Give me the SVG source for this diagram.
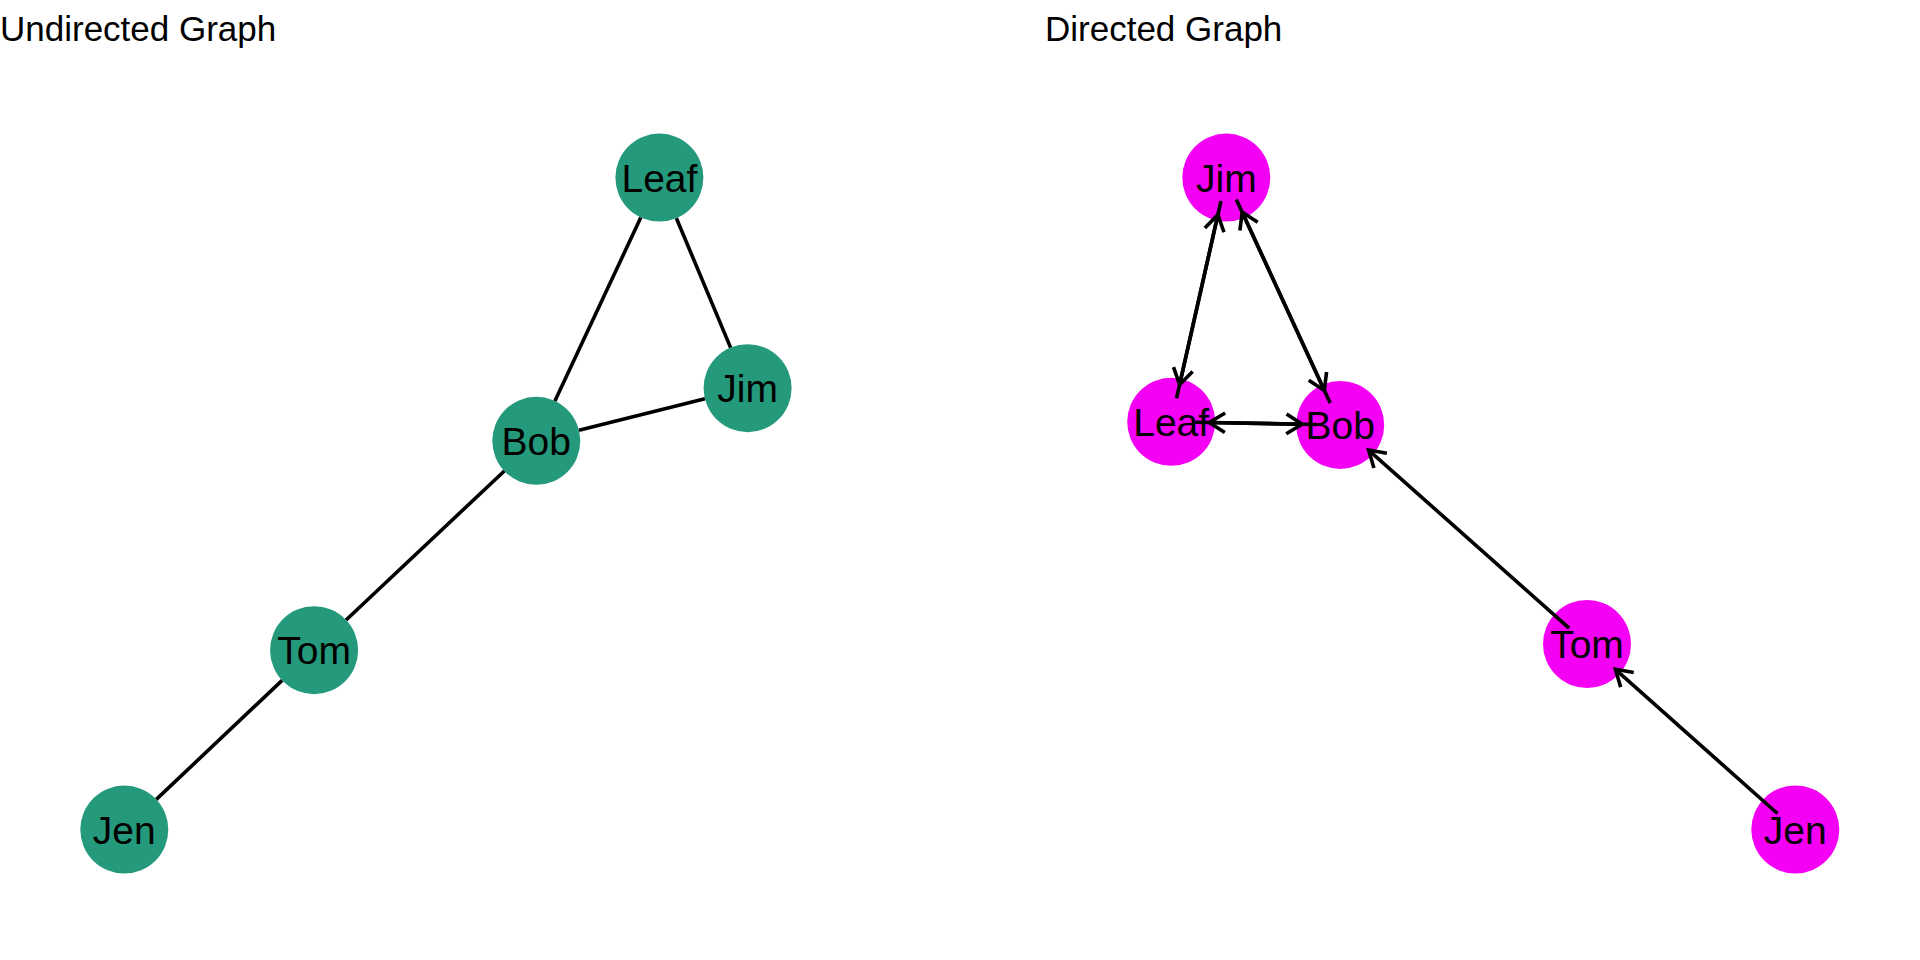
<svg xmlns="http://www.w3.org/2000/svg" width="1920" height="960" viewBox="0 0 1920 960">
<style>
.title{font-family:"Liberation Sans",Arial,sans-serif;font-size:35px;fill:#000}
.lbl{font-family:"Liberation Sans",Arial,sans-serif;font-size:39px;fill:#000;text-anchor:middle}
.un{fill:#24997b}
.dn{fill:#f400f4}
.e{stroke:#000;stroke-width:3.6;fill:none}
.d{stroke:#000;stroke-width:3.6;fill:none;marker-end:url(#arr)}
</style>
<defs>
<marker id="arr" markerUnits="userSpaceOnUse" markerWidth="40" markerHeight="40" viewBox="-20 -20 40 40" refX="0" refY="0" orient="auto" overflow="visible">
<path d="M-15.8,-9.8 L0,0 L-15.8,9.8" fill="none" stroke="#000" stroke-width="3.6" stroke-linejoin="miter"/>
</marker>
</defs>
<rect width="1920" height="960" fill="#fff"/>
<text class="title" x="0" y="41">Undirected Graph</text>
<text class="title" x="1045" y="41">Directed Graph</text>

<g id="u-Leaf"><circle class="un" cx="659.4" cy="177.6" r="44"/><text class="lbl" x="659.4" y="191.6">Leaf</text></g>
<g id="u-Jim"><circle class="un" cx="747.6" cy="388.2" r="44"/><text class="lbl" x="747.6" y="402.2">Jim</text></g>
<g id="u-Bob"><circle class="un" cx="536.3" cy="440.8" r="44"/><text class="lbl" x="536.3" y="454.8">Bob</text></g>
<g id="u-Tom"><circle class="un" cx="314.1" cy="650.2" r="44"/><text class="lbl" x="314.1" y="664.2">Tom</text></g>
<g id="u-Jen"><circle class="un" cx="124.3" cy="829.6" r="44"/><text class="lbl" x="124.3" y="843.6">Jen</text></g>

<g id="d-Jim"><circle class="dn" cx="1226.3" cy="177.6" r="44"/><text class="lbl" x="1226.3" y="191.6">Jim</text></g>
<g id="d-Leaf"><circle class="dn" cx="1171.2" cy="421.8" r="44"/><text class="lbl" x="1171.2" y="435.8">Leaf</text></g>
<g id="d-Bob"><circle class="dn" cx="1340.2" cy="424.9" r="44"/><text class="lbl" x="1340.2" y="438.9">Bob</text></g>
<g id="d-Tom"><circle class="dn" cx="1587" cy="644" r="44"/><text class="lbl" x="1587" y="658">Tom</text></g>
<g id="d-Jen"><circle class="dn" cx="1795.3" cy="829.5" r="44"/><text class="lbl" x="1795.3" y="843.5">Jen</text></g>

<g id="connectors">
<line class="e" x1="640.8" y1="217.5" x2="554.9" y2="400.9"/>
<line class="e" x1="676.4" y1="218.2" x2="730.6" y2="347.6"/>
<line class="e" x1="579.0" y1="430.2" x2="704.9" y2="398.8"/>
<line class="e" x1="504.3" y1="471.0" x2="346.1" y2="620.0"/>
<line class="e" x1="282.1" y1="680.4" x2="156.3" y2="799.4"/>

<line class="d" x1="1176.5" y1="398.4" x2="1217.9" y2="214.7"/>
<line class="d" x1="1221.0" y1="201.0" x2="1179.6" y2="384.7"/>
<line class="d" x1="1195.2" y1="422.2" x2="1302.2" y2="424.2"/>
<line class="d" x1="1316.2" y1="424.5" x2="1209.2" y2="422.5"/>
<line class="d" x1="1236.3" y1="199.4" x2="1324.3" y2="390.4"/>
<line class="d" x1="1330.2" y1="403.1" x2="1242.2" y2="212.1"/>
<line class="d" x1="1569.1" y1="628.1" x2="1368.6" y2="450.1"/>
<line class="d" x1="1777.4" y1="813.5" x2="1615.4" y2="669.3"/>
</g>
</svg>
